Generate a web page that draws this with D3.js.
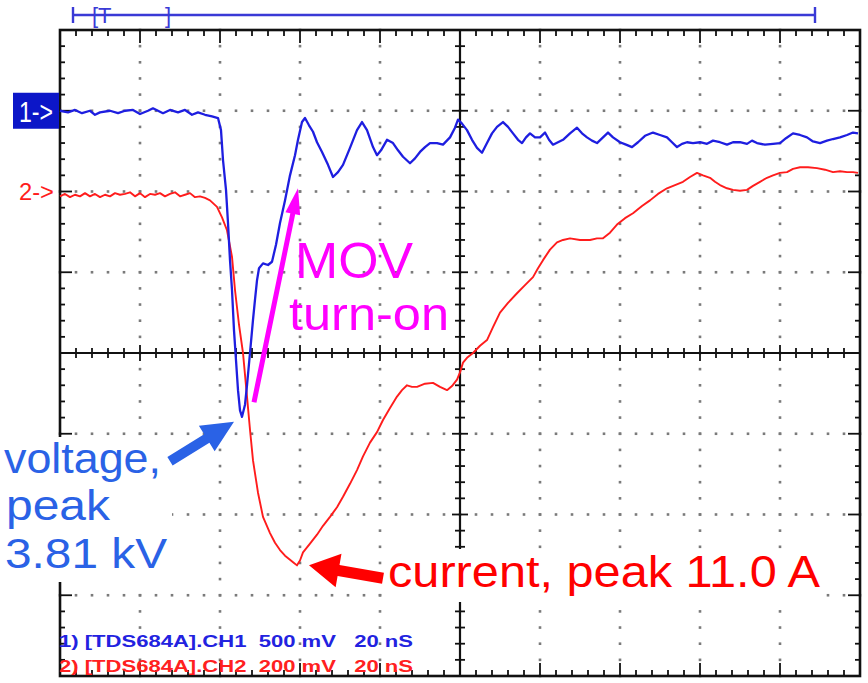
<!DOCTYPE html>
<html><head><meta charset="utf-8">
<script src="https://cdn.jsdelivr.net/npm/d3@7"></script>
<style>html,body{margin:0;padding:0;background:#fff;overflow:hidden} text{white-space:pre}</style>
</head><body>
<svg id="c" width="868" height="683"></svg>
<script>
// ---- data (time in ns, 20 ns/div; amplitude in screen divisions) ----
const timeDomain = [0, 200];
const divDomain = [-4, 4];
const ch1Points = [[0,3.00],[2,2.98],[3.75,3.01],[5.5,2.97],[7.5,3.00],[8.75,2.95],[10,2.98],[12.5,3.00],[14.5,2.97],[16.25,3.00],[18.25,3.01],[20,2.96],[22,3.00],[23.25,3.03],[24.5,3.00],[25.75,2.97],[27.5,3.01],[29.5,2.98],[31.25,3.01],[33,2.95],[34.5,2.98],[36.25,2.95],[38,2.93],[39.5,2.91],[40.25,2.76],[40.75,2.39],[41.5,2.02],[42,1.61],[42.5,1.15],[43,0.78],[43.5,0.28],[44,-0.09],[44.5,-0.46],[45,-0.71],[45.5,-0.79],[46.25,-0.64],[46.75,-0.40],[47.5,0],[48.25,0.41],[48.75,0.66],[49.25,0.90],[49.75,1.05],[50.75,1.11],[52,1.09],[53,1.13],[54,1.34],[55,1.61],[56.25,1.89],[57.5,2.20],[58.75,2.45],[59.5,2.64],[60.5,2.86],[61.25,2.91],[62.25,2.82],[63.25,2.74],[64.25,2.61],[65.5,2.49],[67,2.33],[68.25,2.18],[69.5,2.24],[70.75,2.33],[72.5,2.54],[74.25,2.76],[75.5,2.86],[76.75,2.76],[78.25,2.55],[79.25,2.45],[80.25,2.51],[81.75,2.64],[83.25,2.60],[84.5,2.51],[85.75,2.43],[87.5,2.35],[88.75,2.41],[90,2.49],[91.25,2.55],[92.5,2.60],[94.25,2.60],[95.75,2.58],[97.5,2.67],[98.75,2.79],[99.5,2.89],[100.5,2.84],[101.75,2.76],[103,2.64],[104.25,2.54],[105.5,2.48],[106.75,2.60],[108,2.72],[109.25,2.80],[110.75,2.86],[112,2.80],[113.25,2.72],[114.5,2.64],[115.5,2.60],[116.5,2.67],[117.5,2.72],[118.75,2.67],[120,2.67],[121.25,2.73],[122.25,2.64],[123.25,2.58],[124.5,2.61],[125.75,2.64],[127.5,2.72],[129.25,2.79],[130.5,2.72],[131.75,2.67],[133,2.63],[134.25,2.60],[135.75,2.67],[137,2.73],[138.25,2.67],[140,2.61],[141.5,2.58],[143,2.55],[144.5,2.61],[146.25,2.69],[148.25,2.73],[150,2.70],[151.75,2.67],[153,2.61],[154.25,2.55],[155.5,2.59],[156.75,2.61],[158.25,2.60],[160,2.61],[161.75,2.59],[163.25,2.63],[165,2.61],[166.75,2.58],[168.25,2.61],[170,2.61],[171.75,2.59],[173,2.63],[174.25,2.60],[176.25,2.58],[178.25,2.59],[180,2.60],[181.5,2.66],[183.25,2.72],[185,2.70],[186.75,2.67],[188.25,2.62],[190,2.60],[191.75,2.63],[193.25,2.65],[195,2.67],[196.75,2.70],[198.25,2.73],[199.5,2.72]];
const ch2Points = [[0,1.94],[1.25,1.97],[2.5,1.93],[3.75,1.96],[5,1.94],[6.25,1.98],[7.5,1.94],[8.75,1.97],[10,1.93],[11.25,1.96],[12.5,1.94],[13.75,1.98],[15,1.96],[16.25,1.97],[17.5,1.99],[18.75,1.94],[20,1.98],[21.25,1.93],[22.5,1.97],[23.75,1.96],[25,1.98],[26.25,1.94],[27.5,1.97],[28.75,1.99],[30,1.94],[31.25,1.96],[32.5,1.98],[33.75,1.93],[35,1.94],[36.25,1.92],[37.5,1.89],[39.25,1.81],[40.5,1.68],[41.75,1.52],[43,1.19],[43.75,0.78],[44.75,0.35],[45.75,0],[46.75,-0.54],[47.5,-0.95],[48.25,-1.33],[49.5,-1.73],[50.75,-2.03],[52.5,-2.23],[53.75,-2.35],[55,-2.44],[56.25,-2.51],[57.5,-2.56],[58.5,-2.60],[59.25,-2.63],[60,-2.57],[60.75,-2.47],[62.5,-2.36],[64.25,-2.25],[65.75,-2.14],[67.5,-2.03],[69.25,-1.91],[70.75,-1.78],[72.5,-1.62],[74.25,-1.45],[75.75,-1.28],[77.5,-1.11],[79.25,-0.98],[80.75,-0.83],[82.5,-0.68],[84.25,-0.54],[85.5,-0.46],[86.75,-0.40],[88,-0.42],[89.25,-0.42],[91.25,-0.38],[93.25,-0.37],[95,-0.42],[96.75,-0.46],[98,-0.41],[99.25,-0.33],[100,-0.24],[100.75,-0.12],[101.75,-0.06],[103.25,0],[105,0.09],[106.75,0.16],[108.25,0.32],[110,0.50],[112,0.62],[114.25,0.74],[116.25,0.84],[118.25,0.94],[119.5,1.05],[120.75,1.15],[122.5,1.28],[124.25,1.37],[125.75,1.40],[127.5,1.42],[130,1.40],[132.5,1.40],[134.25,1.42],[135.75,1.42],[137.5,1.49],[139.25,1.59],[141.25,1.67],[143.25,1.73],[145.5,1.82],[147.5,1.89],[149.5,1.97],[151.75,2.04],[153.75,2.08],[155.75,2.12],[157.5,2.18],[159.25,2.23],[160.75,2.20],[162.5,2.17],[163.75,2.12],[165,2.08],[166.75,2.04],[168.25,2.02],[170,2.01],[171.75,2.02],[173.25,2.07],[175,2.12],[176.75,2.17],[178.25,2.20],[180,2.23],[181.75,2.24],[183.25,2.28],[185,2.30],[187,2.30],[189.25,2.29],[191.25,2.27],[193.25,2.24],[195,2.25],[196.75,2.24],[198.25,2.24],[199.5,2.23]];
const channelRefLevels = [3, 2];           // ground markers "1->" and "2->" (div)
const markerLabels = ["1->", "2->"];
const channelLabels = ["1) [TDS684A].CH1  500 mV   20 nS", "2) [TDS684A].CH2  200 mV   20 nS"];
const voltageNote = ["voltage,", "peak", "3.81 kV"];
const movNote = ["MOV", "turn-on"];
const currentNote = "current, peak 11.0 A";

// ---- setup ----
const svg = d3.select("#c");
const FONT = "'Liberation Sans', Arial, Helvetica, sans-serif";
const L = 60, R = 860, T = 30, B = 676;
const x = d3.scaleLinear().domain(timeDomain).range([L, R]);
const y = d3.scaleLinear().domain(divDomain).range([B, T]);
const BLUE = "#1e1ee0", RED = "#ff1c1c", NOTE_BLUE = "#2a62e6", MAG = "#ff00ff";

svg.append("rect").attr("width", 868).attr("height", 683).attr("fill", "#fff");

// ---- graticule dots ----
const minorT = d3.range(0, 200.001, 4);
const minorV = d3.range(-4, 4.001, 0.2).map(v => +v.toFixed(2));
const majorT = d3.range(20, 181, 20).filter(t => t !== 100);
const majorV = [-3, -2, -1, 1, 2, 3];
const dots = [];
majorT.forEach(t => minorV.forEach(v => dots.push([t, v])));
majorV.forEach(v => minorT.forEach(t => dots.push([t, v])));
svg.append("g").selectAll("rect").data(dots).join("rect")
  .attr("x", d => x(d[0]) - 1.3).attr("y", d => y(d[1]) - 1.3)
  .attr("width", 2.6).attr("height", 2.6).attr("fill", "#7a7a7a");

// ---- frame ----
svg.append("rect").attr("x", L).attr("y", T).attr("width", R - L).attr("height", B - T)
  .attr("fill", "none").attr("stroke", "#111").attr("stroke-width", 2.6);
const isMajT = t => Math.abs(t % 20) < 1e-6;
const isMajV = v => Math.abs(v - Math.round(v)) < 1e-6;
const tk = svg.append("g").attr("stroke", "#111").attr("stroke-width", 1.8);
minorT.forEach(t => {
  const len = isMajT(t) ? 13 : 6;
  tk.append("line").attr("x1", x(t)).attr("x2", x(t)).attr("y1", T).attr("y2", T + len);
  tk.append("line").attr("x1", x(t)).attr("x2", x(t)).attr("y1", B).attr("y2", B - len);
  const c = isMajT(t) ? 8 : 5;
  tk.append("line").attr("x1", x(t)).attr("x2", x(t)).attr("y1", y(0) - c).attr("y2", y(0) + c);
});
minorV.forEach(v => {
  const len = isMajV(v) ? 12 : 5;
  tk.append("line").attr("y1", y(v)).attr("y2", y(v)).attr("x1", L).attr("x2", L + len);
  tk.append("line").attr("y1", y(v)).attr("y2", y(v)).attr("x1", R).attr("x2", R - len);
  const c = isMajV(v) ? 8 : 5;
  tk.append("line").attr("y1", y(v)).attr("y2", y(v)).attr("x1", x(100) - c).attr("x2", x(100) + c);
});
// centre cross
svg.append("line").attr("x1", x(100)).attr("x2", x(100)).attr("y1", T).attr("y2", B)
  .attr("stroke", "#111").attr("stroke-width", 2.2);
svg.append("line").attr("x1", L).attr("x2", R).attr("y1", y(0)).attr("y2", y(0))
  .attr("stroke", "#111").attr("stroke-width", 2.2);

// ---- traces ----
const line = d3.line().x(d => x(d[0])).y(d => y(d[1]));
svg.append("path").datum(ch2Points).attr("d", line).attr("fill", "none")
  .attr("stroke", RED).attr("stroke-width", 1.9).attr("stroke-linejoin", "round");
svg.append("path").datum(ch1Points).attr("d", line).attr("fill", "none")
  .attr("stroke", BLUE).attr("stroke-width", 2.3).attr("stroke-linejoin", "round");

// ---- top trigger bar ----
const tb = svg.append("g").attr("stroke", "#3a3ad6").attr("stroke-width", 2.4);
tb.append("line").attr("x1", 73).attr("x2", 815).attr("y1", 15).attr("y2", 15);
tb.append("line").attr("x1", 73).attr("x2", 73).attr("y1", 7).attr("y2", 23);
tb.append("line").attr("x1", 815).attr("x2", 815).attr("y1", 7).attr("y2", 23);
svg.append("text").attr("x", 92).attr("y", 23).attr("font-family", FONT).attr("font-size", 22)
  .attr("fill", "#3a3ad6").text("[T");
svg.append("text").attr("x", 165).attr("y", 23).attr("font-family", FONT).attr("font-size", 22)
  .attr("fill", "#3a3ad6").text("]");

// ---- channel ground markers ----
svg.append("rect").attr("x", 13).attr("y", y(channelRefLevels[0]) - 18).attr("width", 46).attr("height", 36)
  .attr("fill", "#0c16c8");
svg.append("text").attr("x", 19).attr("y", y(channelRefLevels[0]) + 11)
  .attr("font-family", FONT).attr("font-size", 30).attr("fill", "#fff")
  .attr("textLength", 34).attr("lengthAdjust", "spacingAndGlyphs").text(markerLabels[0]);
svg.append("text").attr("x", 19).attr("y", y(channelRefLevels[1]) + 8)
  .attr("font-family", FONT).attr("font-size", 24).attr("fill", RED)
  .attr("textLength", 35).attr("lengthAdjust", "spacingAndGlyphs").text(markerLabels[1]);

// ---- channel setting labels ----
channelLabels.forEach((s, i) => {
  svg.append("text").attr("x", 59).attr("y", 647 + i * 25).attr("xml:space", "preserve")
    .attr("font-family", FONT).attr("font-size", 17).attr("font-weight", "bold")
    .attr("fill", i === 0 ? "#2222e0" : "#ff2020")
    .attr("textLength", 354).attr("lengthAdjust", "spacingAndGlyphs").text(s);
});

// ---- annotations ----
function arrow(x1, y1, x2, y2, sw, hl, hw, color) {
  const dx = x2 - x1, dy = y2 - y1, len = Math.hypot(dx, dy);
  const ux = dx / len, uy = dy / len, px = -uy, py = ux;
  const bx = x2 - ux * hl, by = y2 - uy * hl;
  const pts = [
    [x1 + px * sw / 2, y1 + py * sw / 2], [bx + px * sw / 2, by + py * sw / 2],
    [bx + px * hw / 2, by + py * hw / 2], [x2, y2],
    [bx - px * hw / 2, by - py * hw / 2], [bx - px * sw / 2, by - py * sw / 2],
    [x1 - px * sw / 2, y1 - py * sw / 2]];
  svg.append("path").attr("d", "M" + pts.map(p => p.join(",")).join("L") + "Z").attr("fill", color);
}

// white boxes behind blue and red notes
svg.append("rect").attr("x", 0).attr("y", 437).attr("width", 172).attr("height", 145).attr("fill", "#fff");
svg.append("rect").attr("x", 383).attr("y", 549).attr("width", 443).attr("height", 53).attr("fill", "#fff");

const vLen = [157, 104, 162], vY = [473, 520, 568], vX = [4, 6, 5];
voltageNote.forEach((s, i) => {
  svg.append("text").attr("x", vX[i]).attr("y", vY[i]).attr("font-family", FONT).attr("font-size", 42)
    .attr("fill", NOTE_BLUE).attr("textLength", vLen[i]).attr("lengthAdjust", "spacingAndGlyphs").text(s);
});
const mLen = [118, 160], mY = [278, 330], mX = [295, 289], mSize = [50, 46];
movNote.forEach((s, i) => {
  svg.append("text").attr("x", mX[i]).attr("y", mY[i]).attr("font-family", FONT).attr("font-size", mSize[i])
    .attr("fill", MAG).attr("textLength", mLen[i]).attr("lengthAdjust", "spacingAndGlyphs").text(s);
});
svg.append("text").attr("x", 388).attr("y", 587).attr("font-family", FONT).attr("font-size", 44)
  .attr("fill", "#ff0000").attr("textLength", 432).attr("lengthAdjust", "spacingAndGlyphs").text(currentNote);

arrow(x(27.5), y(-1.34), x(43.5), y(-0.85), 10, 32, 30, NOTE_BLUE);
arrow(x(48.5), y(-0.61), x(59.5), y(2.04), 5, 26, 15, MAG);
arrow(x(80.75), y(-2.79), x(62.25), y(-2.63), 11, 30, 34, "#ff0000");
</script>
</body></html>
